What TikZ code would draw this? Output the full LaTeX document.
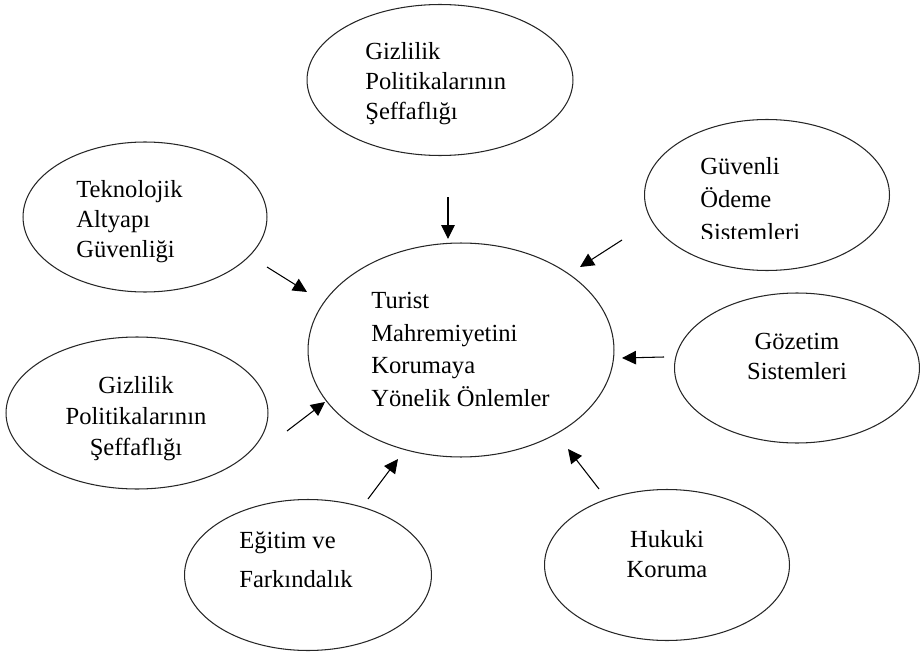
\documentclass[tikz,border=0pt]{standalone}
\usepackage{fontspec}
\setmainfont{Liberation Serif}
\usetikzlibrary{shapes.geometric,arrows.meta}

\begin{document}
\begin{tikzpicture}[x=0.02cm,y=-0.02cm]

    \useasboundingbox (0,0) rectangle (920,652);

    \tikzset{oval/.style={draw=black!85, ellipse, inner sep=0pt, line width=0.6pt},
             yazi/.style={inner sep=0pt, font=\fontsize{14}{17.1}\selectfont, align=left},
             ok/.style={line width=0.6pt, -{Triangle[length=0.28cm,width=0.27cm]}}}

    % elipsler
    \node[oval, minimum width=6.12cm, minimum height=4.28cm] (merkez) at (461,350) {};
    \node[oval, minimum width=5.32cm, minimum height=3.02cm] (ust) at (440,80) {};
    \node[oval, minimum width=4.9cm, minimum height=3.02cm] (guvenli) at (767,195) {};
    \node[oval, minimum width=4.88cm, minimum height=3.0cm] (teknoloji) at (145,217) {};
    \node[oval, minimum width=5.24cm, minimum height=3.04cm] (solgizlilik) at (137,413) {};
    \node[oval, minimum width=4.9cm, minimum height=3.0cm] (gozetim) at (797,368) {};
    \node[oval, minimum width=4.94cm, minimum height=3.02cm] (egitim) at (308,575) {};
    \node[oval, minimum width=4.9cm, minimum height=3.02cm] (hukuki) at (667,565) {};

    % metinler
    \node[yazi, anchor=north west] (merkez-t) at (371,292)
        {Turist\\[1.5pt]Mahremiyetini\\[1.5pt]Korumaya\\[1.5pt]Yönelik Önlemler};
    \node[yazi, anchor=north west] (ust-t) at (365,42)
        {Gizlilik\\Politikalarının\\Şeffaflığı};
    \begin{scope}
        \clip (640,140) rectangle (900,238);
        \node[yazi, anchor=north west] (guvenli-t) at (700,157)
            {Güvenli\\[1.7pt]Ödeme\\[1.7pt]Sistemleri};
    \end{scope}
    \node[yazi, anchor=north west] (teknoloji-t) at (76,180)
        {Teknolojik\\Altyapı\\Güvenliği};
    \node[yazi, align=center, anchor=north] (solgizlilik-t) at (136,376)
        {Gizlilik\\[0.6pt]Politikalarının\\[0.6pt]Şeffaflığı};
    \node[yazi, align=center, anchor=north] (gozetim-t) at (797,333)
        {Gözetim\\Sistemleri};
    \node[yazi, anchor=north west] (egitim-t) at (239,531)
        {Eğitim ve\\[5.1pt]Farkındalık};
    \node[yazi, align=center, anchor=north] (hukuki-t) at (667,530)
        {Hukuki\\Koruma};

    % oklar
    \coordinate (ust-a) at (448,197);        \coordinate (ust-b) at (448,239);
    \coordinate (guvenli-a) at (622,240);    \coordinate (guvenli-b) at (580,267);
    \coordinate (teknoloji-a) at (267,267);  \coordinate (teknoloji-b) at (307,292);
    \coordinate (gozetim-a) at (664,357);    \coordinate (gozetim-b) at (622,358);
    \coordinate (solgizlilik-a) at (287,431); \coordinate (solgizlilik-b) at (325,402);
    \coordinate (egitim-a) at (368,499);     \coordinate (egitim-b) at (398,459);
    \coordinate (hukuki-a) at (599,489);     \coordinate (hukuki-b) at (568,449);

    \foreach \k in {ust, guvenli, teknoloji, gozetim, solgizlilik, egitim, hukuki} {
        \draw[ok] (\k-a) -- (\k-b);
    }

\end{tikzpicture}
\end{document}
